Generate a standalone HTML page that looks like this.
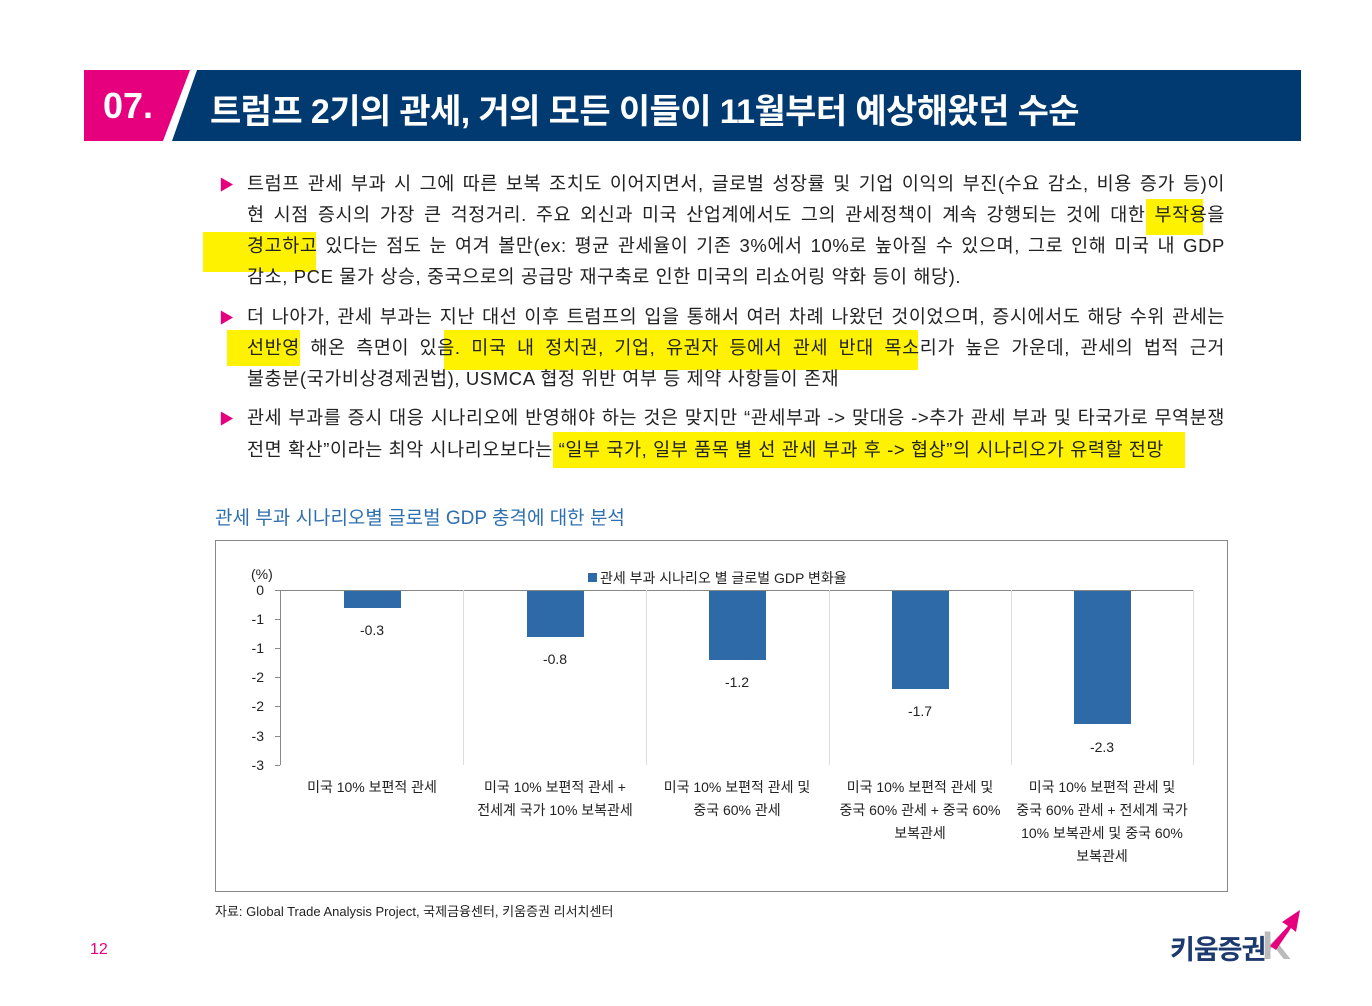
<!DOCTYPE html>
<html><head><meta charset="utf-8"><style>
body{margin:0;width:1372px;height:1006px;background:#fff;position:relative;font-family:"Liberation Sans","Noto Sans CJK KR",sans-serif;overflow:hidden}
.a{position:absolute}
.ln{position:absolute;left:247px;width:978px;font-size:18.5px;color:#222;white-space:nowrap;text-align:justify;text-align-last:justify;line-height:24px;letter-spacing:0.6px}
.ln.l{text-align-last:left}
.bul{position:absolute;left:219px;color:#e6007e;font-size:15px}
.hl{position:absolute;background:#fff200}
.t{position:absolute;font-size:14px;color:#222;text-align:center;line-height:23px}
</style></head><body>
<svg class="a" style="left:0;top:0" width="1372" height="160">
<polygon points="84,70 190,70 163,141 84,141" fill="#e6007e"/>
<polygon points="197,70 1301,70 1301,141 172,141" fill="#003a70"/>
</svg>
<div class="a" style="left:103px;top:85px;color:#fff;font-size:36px;font-weight:bold">07.</div>
<div class="a" style="left:210px;top:84px;color:#fff;font-size:34px;font-weight:bold;letter-spacing:-0.6px">트럼프 2기의 관세, 거의 모든 이들이 11월부터 예상해왔던 수순</div>

<div class="hl" style="left:1146px;top:199px;width:57px;height:36px"></div>
<div class="hl" style="left:203px;top:232px;width:113px;height:40px"></div>
<div class="hl" style="left:227px;top:330px;width:73px;height:36px"></div>
<div class="hl" style="left:444px;top:330px;width:474px;height:40px"></div>
<div class="hl" style="left:553px;top:432px;width:632px;height:36px"></div>

<div class="bul" style="top:174px">▶</div>
<div class="ln" style="top:172px">트럼프 관세 부과 시 그에 따른 보복 조치도 이어지면서, 글로벌 성장률 및 기업 이익의 부진(수요 감소, 비용 증가 등)이</div>
<div class="ln" style="top:203px">현 시점 증시의 가장 큰 걱정거리. 주요 외신과 미국 산업계에서도 그의 관세정책이 계속 강행되는 것에 대한 부작용을</div>
<div class="ln" style="top:234px">경고하고 있다는 점도 눈 여겨 볼만(ex: 평균 관세율이 기존 3%에서 10%로 높아질 수 있으며, 그로 인해 미국 내 GDP</div>
<div class="ln l" style="top:265px">감소, PCE 물가 상승, 중국으로의 공급망 재구축로 인한 미국의 리쇼어링 약화 등이 해당).</div>
<div class="bul" style="top:307px">▶</div>
<div class="ln" style="top:305px">더 나아가, 관세 부과는 지난 대선 이후 트럼프의 입을 통해서 여러 차례 나왔던 것이었으며, 증시에서도 해당 수위 관세는</div>
<div class="ln" style="top:336px">선반영 해온 측면이 있음. 미국 내 정치권, 기업, 유권자 등에서 관세 반대 목소리가 높은 가운데, 관세의 법적 근거</div>
<div class="ln l" style="top:367px">불충분(국가비상경제권법), USMCA 협정 위반 여부 등 제약 사항들이 존재</div>
<div class="bul" style="top:408px">▶</div>
<div class="ln" style="top:406px">관세 부과를 증시 대응 시나리오에 반영해야 하는 것은 맞지만 “관세부과 -> 맞대응 ->추가 관세 부과 및 타국가로 무역분쟁</div>
<div class="ln l" style="top:438px">전면 확산”이라는 최악 시나리오보다는 “일부 국가, 일부 품목 별 선 관세 부과 후 -> 협상”의 시나리오가 유력할 전망</div>

<div class="a" style="left:215px;top:503px;font-size:19px;color:#2e6fb0">관세 부과 시나리오별 글로벌 GDP 충격에 대한 분석</div>
<div class="a" style="left:215px;top:540px;width:1011px;height:350px;border:1px solid #888"></div>
<svg class="a" style="left:0;top:0" width="1372" height="1006" font-family="Liberation Sans,Noto Sans CJK KR,sans-serif" font-size="14" fill="#222">
<text x="251" y="579">(%)</text>
<rect x="588" y="573" width="9" height="9" fill="#2e6aa8"/>
<text x="600" y="583">관세 부과 시나리오 별 글로벌 GDP 변화율</text>
<g text-anchor="end">
<text x="264" y="595">0</text><text x="264" y="624">-1</text><text x="264" y="653">-1</text><text x="264" y="682">-2</text><text x="264" y="711">-2</text><text x="264" y="741">-3</text><text x="264" y="770">-3</text></g>
<g stroke="#888" stroke-width="1">
<line x1="280.5" y1="590" x2="280.5" y2="765"/>
<line x1="275" y1="590.5" x2="1194" y2="590.5"/>
<line x1="275" y1="619.5" x2="280" y2="619.5"/><line x1="275" y1="648.5" x2="280" y2="648.5"/><line x1="275" y1="677.5" x2="280" y2="677.5"/><line x1="275" y1="706.5" x2="280" y2="706.5"/><line x1="275" y1="736.5" x2="280" y2="736.5"/><line x1="275" y1="765.5" x2="280" y2="765.5"/>
</g>
<g stroke="#ddd"><line x1="463.5" y1="590" x2="463.5" y2="765"/><line x1="646.5" y1="590" x2="646.5" y2="765"/><line x1="829.5" y1="590" x2="829.5" y2="765"/><line x1="1011.5" y1="590" x2="1011.5" y2="765"/><line x1="1193.5" y1="590" x2="1193.5" y2="765"/></g>
<g fill="#2e6aa8">
<rect x="344" y="591" width="57" height="17"/><rect x="527" y="591" width="57" height="46"/><rect x="709" y="591" width="57" height="69"/><rect x="892" y="591" width="57" height="98"/><rect x="1074" y="591" width="57" height="133"/></g>
<g text-anchor="middle">
<text x="372" y="635">-0.3</text><text x="555" y="664">-0.8</text><text x="737" y="687">-1.2</text><text x="920" y="716">-1.7</text><text x="1102" y="752">-2.3</text></g>
</svg>
<div class="t" style="left:282px;top:776px;width:180px">미국 10% 보편적 관세</div>
<div class="t" style="left:465px;top:776px;width:180px">미국 10% 보편적 관세 +<br>전세계 국가 10% 보복관세</div>
<div class="t" style="left:647px;top:776px;width:180px">미국 10% 보편적 관세 및<br>중국 60% 관세</div>
<div class="t" style="left:830px;top:776px;width:180px">미국 10% 보편적 관세 및<br>중국 60% 관세 + 중국 60%<br>보복관세</div>
<div class="t" style="left:1012px;top:776px;width:180px">미국 10% 보편적 관세 및<br>중국 60% 관세 + 전세계 국가<br>10% 보복관세 및 중국 60%<br>보복관세</div>
<div class="a" style="left:215px;top:901px;font-size:13px;color:#222">자료: Global Trade Analysis Project, 국제금융센터, 키움증권 리서치센터</div>
<div class="a" style="left:90px;top:941px;font-size:16px;color:#e6007e">12</div>
<div class="a" style="left:1262px;top:924px;font-size:40px;font-weight:bold;color:#bbb">K</div>
<svg class="a" style="left:1260px;top:908px" width="45" height="45"><polygon points="10,38 28,18 22,14 40,2 36,24 31,20 16,42" fill="#e6007e"/></svg>
<div class="a" style="left:1170px;top:928px;font-size:27px;font-weight:bold;color:#1d3a6e;letter-spacing:-1px">키움증권</div>
</body></html>
